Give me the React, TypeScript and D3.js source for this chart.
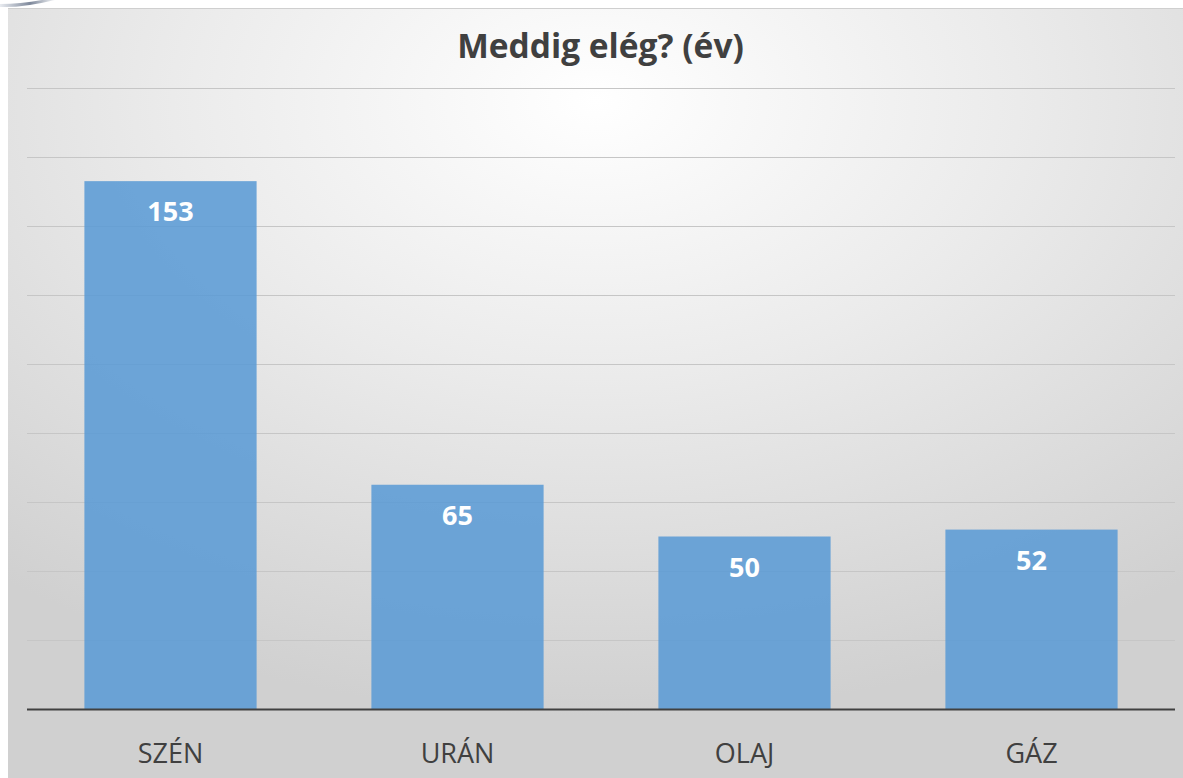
import React from "react";
import * as d3 from "d3";

const categories = ["SZÉN", "URÁN", "OLAJ", "GÁZ"];
const values = [153, 65, 50, 52];
const gridTicks = [20, 40, 60, 80, 100, 120, 140, 160, 180];
const title = "Meddig elég? (év)";

export default function App() {
  const W = 1183;
  const H = 778;
  const plotLeft = 27;
  const plotRight = 1175;
  const plotTop = 88;
  const plotBottom = 709;

  const x = d3.scaleBand<string>().domain(categories).range([plotLeft, plotRight]).paddingInner(0.4).paddingOuter(0.2);
  const y = d3.scaleLinear().domain([0, 180]).range([plotBottom, plotTop]);
  const font = "'Open Sans', 'DejaVu Sans', sans-serif";

  return (
    <svg width={W} height={H} style={{ position: "absolute", left: 0, top: 0, display: "block" }}>
      <defs>
        <radialGradient id="bg" cx="50%" cy="12%" r="80%" fx="50%" fy="12%">
          <stop offset="0%" stopColor="#ffffff" />
          <stop offset="45%" stopColor="#ebebeb" />
          <stop offset="100%" stopColor="#d0d0d0" />
        </radialGradient>
        <linearGradient id="swoosh" x1="0" y1="0" x2="1" y2="0">
          <stop offset="0%" stopColor="#dfe3ea" />
          <stop offset="55%" stopColor="#46556f" />
          <stop offset="100%" stopColor="#eef0f3" />
        </linearGradient>
      </defs>
      <rect x={0} y={0} width={W} height={H} fill="#ffffff" />
      <path d="M0,7 Q22,8 55,0 L42,0 Q20,4 0,4 Z" fill="url(#swoosh)" opacity={0.7} />
      <rect x={8} y={8} width={W - 8} height={H - 8} fill="url(#bg)" />
      <line x1={8} x2={W} y1={8.5} y2={8.5} stroke="#cfcfcf" strokeWidth={1} />
      {gridTicks.map((t) => (
        <line key={t} x1={plotLeft} x2={plotRight} y1={Math.round(y(t)) + 0.5} y2={Math.round(y(t)) + 0.5} stroke="#c6c6c6" strokeWidth={1} />
      ))}
      {categories.map((c, i) => (
        <rect key={c} x={x(c)!} y={y(values[i])} width={x.bandwidth()} height={plotBottom - y(values[i])} fill="#5b9bd5" fillOpacity={0.88} />
      ))}
      <line x1={plotLeft} x2={plotRight} y1={plotBottom + 0.5} y2={plotBottom + 0.5} stroke="#404040" strokeWidth={2} />
      {categories.map((c, i) => (
        <text key={c} x={x(c)! + x.bandwidth() / 2} y={y(values[i]) + 40} textAnchor="middle" fill="#ffffff" fontFamily={font} fontWeight={700} fontSize={27}>
          {values[i]}
        </text>
      ))}
      {categories.map((c) => (
        <text key={c} x={x(c)! + x.bandwidth() / 2} y={763} textAnchor="middle" fill="#404040" fontFamily={font} fontSize={27}>
          {c}
        </text>
      ))}
      <text x={600.5} y={58} textAnchor="middle" fill="#404040" fontFamily={font} fontWeight={700} fontSize={33.5}>
        {title}
      </text>
    </svg>
  );
}
